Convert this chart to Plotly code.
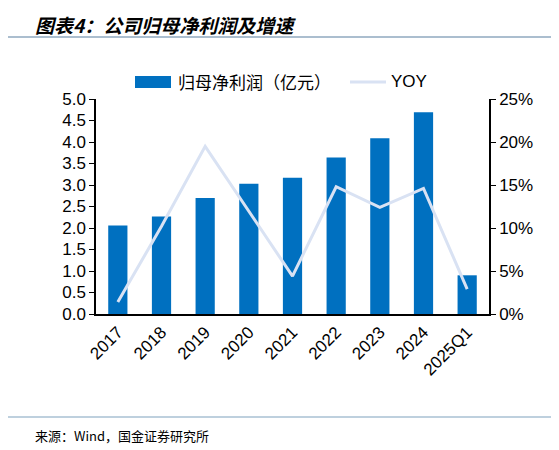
import plotly.graph_objects as go

years = ['2017', '2018', '2019', '2020', '2021', '2022', '2023', '2024', '2025Q1']
profit = [2.06, 2.27, 2.70, 3.03, 3.17, 3.64, 4.09, 4.69, 0.90]   # 亿元
yoy = [1.4, 10.2, 19.5, 12.0, 4.4, 14.8, 12.4, 14.6, 2.9]          # %

BAR_BLUE = '#0070C0'
LINE_BLUE = '#D9E2F3'
TICK_FONT = dict(family='Liberation Sans, Arial', size=17, color='black')

# page body has an 8px margin, so work in screen pixels and shift
OFF = 8
W, H = 559, 450
# plot area on screen: x 96..489, y 99..314
L, R, T, B = 96 - OFF, 489 - OFF, 99 - OFF, 314 - OFF


def px(x):
    return (x - OFF - L) / (R - L)


def py(y):
    return (B - (y - OFF)) / (B - T)


fig = go.Figure()
fig.add_trace(go.Bar(x=years, y=profit, marker_color=BAR_BLUE,
                     marker_line_width=0, name='归母净利润（亿元）', showlegend=False))
fig.add_trace(go.Scatter(x=years, y=yoy, yaxis='y2', mode='lines',
                         line=dict(color=LINE_BLUE, width=3),
                         name='YOY', showlegend=False))

fig.update_layout(
    width=W, height=H,
    margin=dict(l=L, r=W - R, t=T, b=H - B, autoexpand=False),
    plot_bgcolor='white', paper_bgcolor='white',
    bargap=0.56,
    xaxis=dict(showline=True, linecolor='black', linewidth=1.5, ticks='',
               tickangle=-45, tickfont=TICK_FONT, showgrid=False,
               automargin=False),
    yaxis=dict(range=[0, 5], dtick=0.5, tickformat='.1f', showline=True,
               linecolor='black', linewidth=1.5, ticks='outside', ticklen=5,
               tickcolor='black', tickfont=TICK_FONT, showgrid=False,
               zeroline=False, automargin=False),
    yaxis2=dict(range=[0, 25], dtick=5, ticksuffix='%', overlaying='y',
                side='right', showline=True, linecolor='black', linewidth=1.5,
                ticks='outside', ticklen=5, tickcolor='black',
                tickfont=TICK_FONT, showgrid=False, zeroline=False,
                automargin=False),
)

shapes = [
    # header / footer rules
    dict(type='line', xref='paper', yref='paper', x0=px(OFF), x1=px(554),
         y0=py(37), y1=py(37), line=dict(color='#8FA8BF', width=1.5)),
    dict(type='line', xref='paper', yref='paper', x0=px(OFF), x1=px(554),
         y0=py(417), y1=py(417), line=dict(color='#A9C0D3', width=1.5)),
    # legend swatches
    dict(type='rect', xref='paper', yref='paper', x0=px(135), x1=px(171),
         y0=py(88), y1=py(76), fillcolor=BAR_BLUE, line=dict(width=0)),
    dict(type='line', xref='paper', yref='paper', x0=px(350), x1=px(386),
         y0=py(82), y1=py(82), line=dict(color=LINE_BLUE, width=3)),
]

annotations = [
    dict(text='<b><i>图表4：公司归母净利润及增速</i></b>', x=px(33), y=py(OFF + 1),
         xref='paper', yref='paper', xanchor='left', yanchor='top',
         showarrow=False, font=dict(family='Noto Sans CJK SC', size=19, color='black')),
    dict(text='归母净利润（亿元）', x=px(176), y=py(82), xref='paper', yref='paper',
         xanchor='left', yanchor='middle', showarrow=False,
         font=dict(family='Noto Sans CJK SC', size=17, color='black')),
    dict(text='YOY', x=px(389), y=py(82), xref='paper', yref='paper',
         xanchor='left', yanchor='middle', showarrow=False,
         font=dict(family='Liberation Sans, Arial', size=17, color='black')),
    dict(text='来源：Wind，国金证券研究所', x=px(33), y=py(436), xref='paper',
         yref='paper', xanchor='left', yanchor='middle', showarrow=False,
         font=dict(family='Noto Sans CJK SC', size=13, color='black')),
]

fig.update_layout(shapes=shapes, annotations=annotations)

fig.write_html("out.html")
